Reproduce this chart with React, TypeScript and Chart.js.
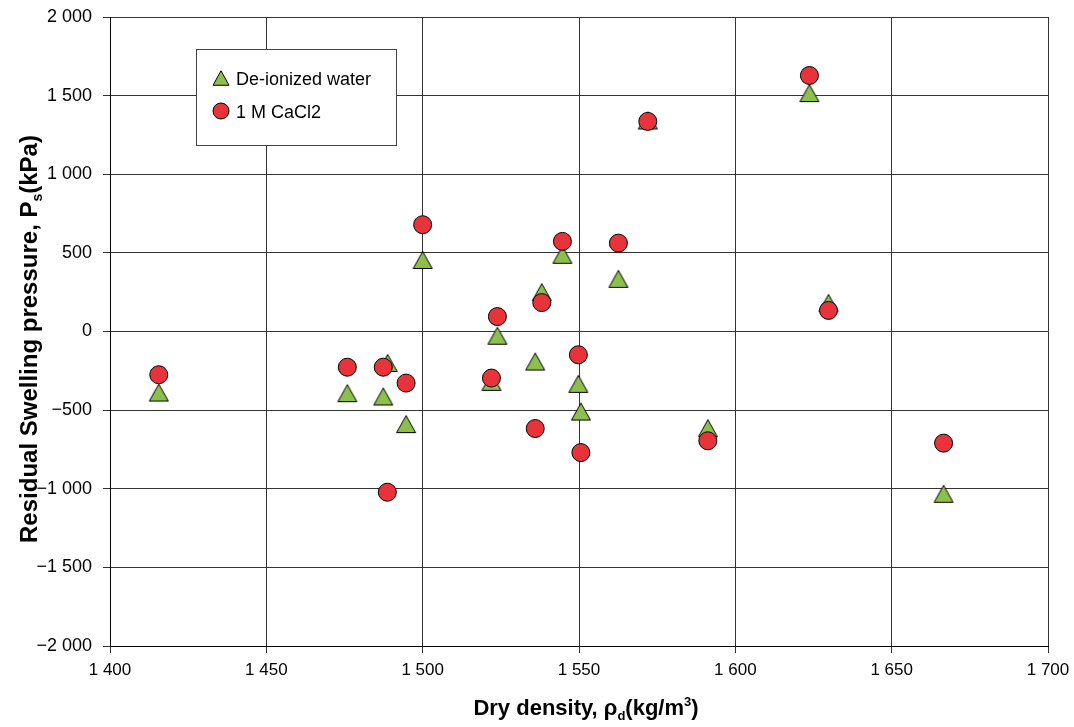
import React, { useEffect, useRef } from "react";
import { Chart, registerables } from "chart.js";

Chart.register(...registerables);

const density = [1415.6, 1475.9, 1487.4, 1488.8, 1494.7, 1500, 1522, 1523.9, 1536, 1538.1, 1544.7, 1549.8, 1550.6, 1562.6, 1572, 1591.2, 1623.7, 1629.8, 1666.6];
const deionizedWater = [-388, -392, -413, -200, -589, 455, -320, -27, -191, 250, 488, -333, -509, 335, 1342, -615, 1516, 182, -1032];
const cacl2Density = [1415.6, 1475.9, 1487.4, 1488.7, 1494.7, 1500, 1522, 1523.9, 1536, 1538.1, 1544.7, 1549.8, 1550.6, 1562.6, 1572, 1591.2, 1623.7, 1629.8, 1666.6];
const cacl2 = [-275, -227, -227, -1022, -328, 679, -296, 95, -617, 184, 573, -148, -770, 562, 1336, -695, 1628, 134, -710];
const seriesNames = ["De-ionized water", "1 M CaCl2"];
const xTicks = [1400, 1450, 1500, 1550, 1600, 1650, 1700];
const yTicks = [-2000, -1500, -1000, -500, 0, 500, 1000, 1500, 2000];

const GREEN = "#8DBF4C";
const RED = "#E8333A";
const SANS = "'Liberation Sans', Arial, sans-serif";

function fmt(v: number): string {
  const a = Math.abs(v);
  let s = String(a);
  if (a >= 1000) s = s.slice(0, s.length - 3) + " " + s.slice(s.length - 3);
  return (v < 0 ? "\u2212" : "") + s;
}

function makeTriangle(w: number, h: number): HTMLCanvasElement {
  const c = document.createElement("canvas");
  c.width = 24;
  c.height = 24;
  const ctx = c.getContext("2d")!;
  const cx = 12, cy = 12;
  ctx.beginPath();
  ctx.moveTo(cx, cy - h / 2);
  ctx.lineTo(cx + w / 2, cy + h / 2);
  ctx.lineTo(cx - w / 2, cy + h / 2);
  ctx.closePath();
  ctx.fillStyle = GREEN;
  ctx.fill();
  ctx.lineWidth = 1;
  ctx.strokeStyle = "#000";
  ctx.lineJoin = "miter";
  ctx.stroke();
  return c;
}

function drawSubText(ctx: CanvasRenderingContext2D, parts: { t: string; sub?: boolean; sup?: boolean }[], size: number, family: string, cx: number, cy: number) {
  const big = `bold ${size}px ${family}`;
  const small = `bold ${Math.round(size * 0.6)}px ${family}`;
  let total = 0;
  const widths: number[] = [];
  for (const p of parts) {
    ctx.font = p.sub || p.sup ? small : big;
    const w = ctx.measureText(p.t).width;
    widths.push(w);
    total += w;
  }
  let x = cx - total / 2;
  ctx.textBaseline = "middle";
  ctx.textAlign = "left";
  parts.forEach((p, i) => {
    ctx.font = p.sub || p.sup ? small : big;
    const dy = p.sub ? size * 0.35 : p.sup ? -size * 0.3 : 0;
    ctx.fillText(p.t, x, cy + dy);
    x += widths[i];
  });
}

const overlayPlugin = {
  id: "overlay",
  afterDraw(chart: any, _a: any, opts: any) {
    const ctx: CanvasRenderingContext2D = chart.ctx;
    const ca = chart.chartArea;
    ctx.save();
    ctx.fillStyle = "#000";
    // Y axis title
    ctx.save();
    ctx.translate(30, 339);
    ctx.rotate(-Math.PI / 2);
    drawSubText(ctx, [{ t: "Residual Swelling pressure, P" }, { t: "s", sub: true }, { t: "(kPa)" }], 24, SANS, 0, 0);
    ctx.restore();
    // X axis title
    drawSubText(ctx, [{ t: "Dry density, \u03C1" }, { t: "d", sub: true }, { t: "(kg/m" }, { t: "3", sup: true }, { t: ")" }], 22, SANS, (ca.left + ca.right) / 2 + 7, 709);
    // Legend
    const bx = 196.5, by = 49.5, bw = 200, bh = 96;
    ctx.fillStyle = "#fff";
    ctx.fillRect(bx, by, bw, bh);
    ctx.strokeStyle = "#444";
    ctx.lineWidth = 1;
    ctx.strokeRect(bx, by, bw, bh);
    ctx.drawImage(opts.legendTri, 221 - 12, 78 - 12);
    ctx.beginPath();
    ctx.arc(221, 111, 8, 0, Math.PI * 2);
    ctx.fillStyle = RED;
    ctx.fill();
    ctx.strokeStyle = "#000";
    ctx.stroke();
    ctx.fillStyle = "#000";
    ctx.font = `18px ${SANS}`;
    ctx.textBaseline = "middle";
    ctx.textAlign = "left";
    ctx.fillText(seriesNames[0], 236, 80);
    ctx.fillText(seriesNames[1], 236, 113);
    ctx.restore();
  },
};

export default function App() {
  const ref = useRef<HTMLCanvasElement | null>(null);
  useEffect(() => {
    if (!ref.current) return;
    const tri = makeTriangle(19, 17);
    const legendTri = makeTriangle(16, 14.5);
    const chart = new Chart(ref.current, {
      type: "scatter",
      data: {
        datasets: [
          {
            label: seriesNames[0],
            data: density.map((x, i) => ({ x, y: deionizedWater[i] })),
            pointStyle: tri as any,
            pointRadius: 10,
            backgroundColor: GREEN,
            borderColor: "#000",
            order: 1,
          },
          {
            label: seriesNames[1],
            data: cacl2Density.map((x, i) => ({ x, y: cacl2[i] })),
            pointStyle: "circle",
            pointRadius: 9,
            borderWidth: 1,
            backgroundColor: RED,
            borderColor: "#000",
            order: 0,
          },
        ],
      },
      options: {
        animation: false,
        responsive: false,
        events: [],
        layout: { padding: { top: 17, right: 26, left: 0, bottom: 0 } },
        plugins: {
          legend: { display: false },
          tooltip: { enabled: false },
          overlay: { legendTri },
        } as any,
        scales: {
          x: {
            type: "linear",
            min: 1400,
            max: 1700,
            afterBuildTicks: (s: any) => {
              s.ticks = xTicks.map((v) => ({ value: v }));
            },
            afterFit: (s: any) => {
              s.height = 81;
              s.paddingLeft = 0;
              s.paddingRight = 0;
            },
            ticks: {
              callback: (v: any) => fmt(Number(v)),
              color: "#000",
              font: { family: SANS, size: 17 },
              padding: 7,
              maxRotation: 0,
            },
            grid: { color: "#333", lineWidth: 1, tickLength: 7 },
            border: { color: "#000", width: 1 },
          },
          y: {
            type: "linear",
            min: -2000,
            max: 2000,
            afterBuildTicks: (s: any) => {
              s.ticks = yTicks.map((v) => ({ value: v }));
            },
            afterFit: (s: any) => {
              s.width = 110;
              s.paddingTop = 0;
              s.paddingBottom = 0;
            },
            ticks: {
              callback: (v: any) => fmt(Number(v)),
              color: "#000",
              font: { family: SANS, size: 18 },
              padding: 11,
            },
            grid: { color: "#333", lineWidth: 1, tickLength: 7 },
            border: { color: "#000", width: 1 },
          },
        },
      },
      plugins: [overlayPlugin as any],
    });
    return () => chart.destroy();
  }, []);
  return (
    <div style={{ position: "fixed", left: 0, top: 0, width: 1074, height: 727, background: "#fff" }}>
      <canvas ref={ref} width={1074} height={727} style={{ width: 1074, height: 727, display: "block" }} />
    </div>
  );
}
